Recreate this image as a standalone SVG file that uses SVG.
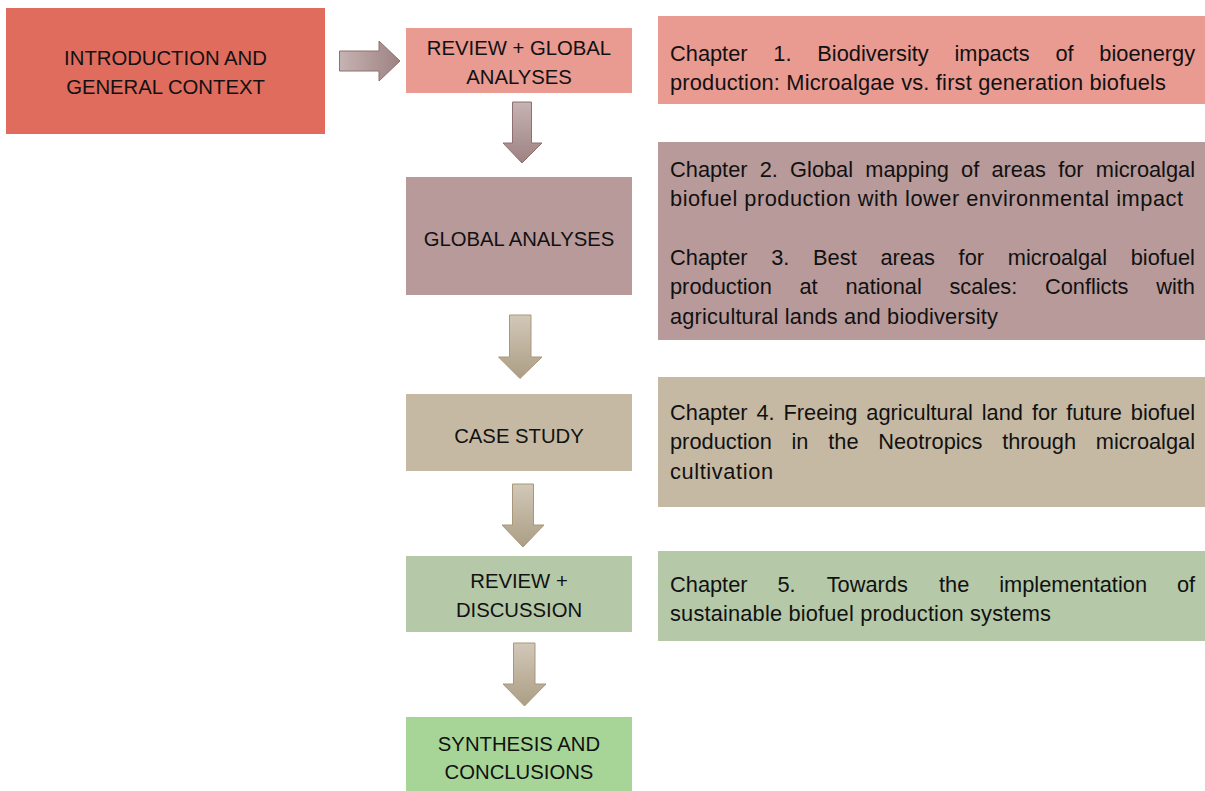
<svg xmlns="http://www.w3.org/2000/svg" width="1205" height="791" viewBox="0 0 1205 791">
  <defs>
    <style>
      .cap { font-family: "Liberation Sans", Arial, sans-serif; font-size: 20.3px; fill: #111; text-anchor: middle; }
      .body { font-family: "Liberation Sans", Arial, sans-serif; font-size: 21.8px; fill: #111; }
      .j { text-anchor: middle; }
      .intro { fill: #E06C5E; }
      .rose { fill: #E99A91; }
      .mauve { fill: #B89A9A; }
      .sand { fill: #C6B9A3; }
      .sage { fill: #B5C8A8; }
      .green { fill: #A7D597; }
      .arrow-m { stroke: #8E7070; stroke-width: 1; }
      .arrow-b { stroke: #A8977A; stroke-width: 1; }
    </style>
    <linearGradient id="gradMauveH" x1="0" y1="0" x2="1" y2="0">
      <stop offset="0" stop-color="#C6B3B3"/>
      <stop offset="1" stop-color="#9E8282"/>
    </linearGradient>
    <linearGradient id="gradMauveV" x1="0" y1="0" x2="0" y2="1">
      <stop offset="0" stop-color="#C6B3B3"/>
      <stop offset="1" stop-color="#9E8282"/>
    </linearGradient>
    <linearGradient id="gradSandV" x1="0" y1="0" x2="0" y2="1">
      <stop offset="0" stop-color="#D2C8B8"/>
      <stop offset="1" stop-color="#AC9E85"/>
    </linearGradient>
  </defs>

  <rect width="1205" height="791" fill="#FFFFFF"/>

  <!-- block arrows between stages -->
  <g id="connectors">
    <path class="arrow-m" fill="url(#gradMauveH)" d="M339.5,51 H379 V41 L400,61 L379,81 V71 H339.5 Z"/>
    <path class="arrow-m" fill="url(#gradMauveV)" d="M512.5,102 H531.5 V143 H542 L522,163 L503,143 H512.5 Z"/>
    <path class="arrow-b" fill="url(#gradSandV)" d="M509.5,315 H531 V357 H542 L520,378.5 L498.5,357 H509.5 Z"/>
    <path class="arrow-b" fill="url(#gradSandV)" d="M512.5,484 H533.5 V525 H544 L523,547 L502,525 H512.5 Z"/>
    <path class="arrow-b" fill="url(#gradSandV)" d="M513.5,643 H535 V684 H546 L524.5,706 L503,684 H513.5 Z"/>
  </g>

  <g id="intro">
    <rect class="intro" x="6" y="8" width="319" height="126"/>
    <text class="cap"><tspan x="165.5" y="64.5">INTRODUCTION AND</tspan><tspan x="165.5" y="93.5">GENERAL CONTEXT</tspan></text>
  </g>

  <g id="review-global">
    <rect class="rose" x="406" y="28" width="226" height="65"/>
    <text class="cap"><tspan x="519" y="54.5">REVIEW + GLOBAL</tspan><tspan x="519" y="83.5">ANALYSES</tspan></text>
  </g>

  <g id="global-analyses">
    <rect class="mauve" x="406" y="177" width="226" height="118"/>
    <text class="cap" x="519" y="245.5">GLOBAL ANALYSES</text>
  </g>

  <g id="case-study">
    <rect class="sand" x="406" y="394" width="226" height="77"/>
    <text class="cap" x="519" y="442.5">CASE STUDY</text>
  </g>

  <g id="review-discussion">
    <rect class="sage" x="406" y="556" width="226" height="76"/>
    <text class="cap"><tspan x="519" y="587.5">REVIEW +</tspan><tspan x="519" y="616.5">DISCUSSION</tspan></text>
  </g>

  <g id="synthesis">
    <rect class="green" x="406" y="717" width="226" height="74"/>
    <text class="cap"><tspan x="519" y="750.5">SYNTHESIS AND</tspan><tspan x="519" y="779">CONCLUSIONS</tspan></text>
  </g>

  <!-- chapter descriptions (justified text, one tspan per word, even gaps) -->
  <g id="chapter-1">
    <rect class="rose" x="658" y="16" width="547" height="88"/>
    <text class="body j" y="61"><tspan x="708.8">Chapter</tspan><tspan x="782.4">1.</tspan><tspan x="873">Biodiversity</tspan><tspan x="992">impacts</tspan><tspan x="1064.5">of</tspan><tspan x="1147.2">bioenergy</tspan></text>
    <text class="body" x="670" y="90.3" textLength="496" lengthAdjust="spacing">production: Microalgae vs. first generation biofuels</text>
  </g>

  <g id="chapters-2-3">
    <rect class="mauve" x="658" y="142" width="547" height="198"/>
    <text class="body j" y="177"><tspan x="708.8">Chapter</tspan><tspan x="768.8">2.</tspan><tspan x="821.6">Global</tspan><tspan x="907.1">mapping</tspan><tspan x="970.2">of</tspan><tspan x="1018.7">areas</tspan><tspan x="1070.9">for</tspan><tspan x="1145.4">microalgal</tspan></text>
    <text class="body" x="670" y="206.3" textLength="513" lengthAdjust="spacing">biofuel production with lower environmental impact</text>
    <text class="body j" y="265"><tspan x="708.8">Chapter</tspan><tspan x="780.3">3.</tspan><tspan x="834.9">Best</tspan><tspan x="907.7">areas</tspan><tspan x="971.3">for</tspan><tspan x="1057.4">microalgal</tspan><tspan x="1162.8">biofuel</tspan></text>
    <text class="body j" y="294.3"><tspan x="720.9">production</tspan><tspan x="808.6">at</tspan><tspan x="883.6">national</tspan><tspan x="983.3">scales:</tspan><tspan x="1086.7">Conflicts</tspan><tspan x="1175.6">with</tspan></text>
    <text class="body" x="670" y="323.6" textLength="328" lengthAdjust="spacing">agricultural lands and biodiversity</text>
  </g>

  <g id="chapter-4">
    <rect class="sand" x="658" y="377" width="547" height="130"/>
    <text class="body j" y="420"><tspan x="708.8">Chapter</tspan><tspan x="765.5">4.</tspan><tspan x="820.5">Freeing</tspan><tspan x="919.6">agricultural</tspan><tspan x="1002.4">land</tspan><tspan x="1044.6">for</tspan><tspan x="1094.1">future</tspan><tspan x="1162.9">biofuel</tspan></text>
    <text class="body j" y="449.3"><tspan x="720.9">production</tspan><tspan x="800">in</tspan><tspan x="843.4">the</tspan><tspan x="930.3">Neotropics</tspan><tspan x="1039.1">through</tspan><tspan x="1145.4">microalgal</tspan></text>
    <text class="body" x="670" y="478.6" textLength="103" lengthAdjust="spacing">cultivation</text>
  </g>

  <g id="chapter-5">
    <rect class="sage" x="658" y="551" width="547" height="90"/>
    <text class="body j" y="591.5"><tspan x="708.8">Chapter</tspan><tspan x="786.5">5.</tspan><tspan x="867.3">Towards</tspan><tspan x="954.2">the</tspan><tspan x="1073.1">implementation</tspan><tspan x="1186">of</tspan></text>
    <text class="body" x="670" y="620.8" textLength="381" lengthAdjust="spacing">sustainable biofuel production systems</text>
  </g>
</svg>
